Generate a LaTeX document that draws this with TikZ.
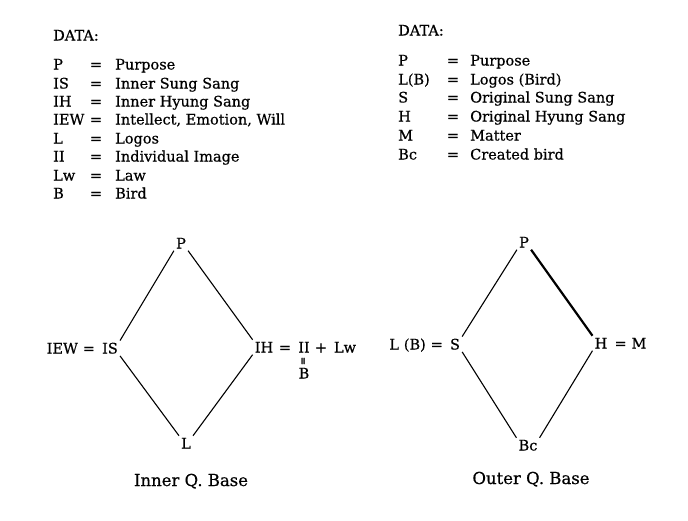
\documentclass[tikz,border=0pt]{standalone}
\usepackage{fontspec}
\setmainfont{DejaVu Serif}[FakeBold=0.6]
\usepackage{graphicx}
\begin{document}
\begin{tikzpicture}[x=1pt,y=-1pt,
  every node/.style={font=\fontsize{14.5}{17}\selectfont, inner sep=0pt},
  txt/.style={anchor=base west},
  lbl/.style={anchor=base},
  capt/.style={anchor=base, font=\fontsize{16.5}{19}\selectfont},
  vtx/.style={anchor=base, inner sep=2pt},
  edge/.style={line width=1.1pt},
  thickedge/.style={line width=2.2pt}]
\useasboundingbox (0,0) rectangle (688,520);
% ---------- left data list ----------
\node[txt] (ldata) at (53,40.5) {DATA:};
\foreach \n/\a/\d/\y in {l1/P/Purpose/69.5, l2/IS/Inner Sung Sang/88.5, l3/IH/Inner Hyung Sang/106.5,
  l4/IEW/{Intellect, Emotion, Will}/124.5, l5/L/Logos/143.5, l6/II/Individual Image/161.5,
  l7/Lw/Law/180.5, l8/B/Bird/198.5}{
  \node[txt] (\n a) at (53,\y) {\a};
  \node[lbl] (\n e) at (96,\y) {=};
  \node[txt] (\n d) at (115,\y) {\d};
}
% ---------- right data list ----------
\node[txt] (rdata) at (398,35.5) {DATA:};
\foreach \n/\a/\d/\y in {r1/P/Purpose/65.5, r2/L(B)/Logos (Bird)/84.5, r3/S/Original Sung Sang/102.5,
  r4/H/Original Hyung Sang/121.5, r5/M/Matter/140.5, r6/Bc/Created bird/159.5}{
  \node[txt] (\n a) at (398,\y) {\a};
  \node[lbl] (\n e) at (453,\y) {=};
  \node[txt] (\n d) at (470,\y) {\d};
}
% ---------- inner quadruple base ----------
\node[vtx] (P1) at (181,248.5) {P};
\node[vtx] (IS) at (110,353.5) {IS};
\node[anchor=base east] (IEW) at (IS.base west) {IEW\,\,=\,\,};
\node[vtx] (IH) at (264,352.5) {IH};
\node[lbl] (eq1) at (285,352.5) {=};
\node[lbl] (II) at (304,352.5) {II};
\node[lbl] (plus) at (321,352.5) {+};
\node[lbl] (Lw) at (345,352.5) {Lw};
\node (veq) at (304,361) {\rotatebox{90}{\fontsize{10}{10}\selectfont =}};
\node[lbl] (Bb) at (304,378.5) {B};
\node[vtx] (L) at (186,448.5) {L};
\node[capt] (cap1) at (191,486) {Inner Q. Base};
\draw[edge] (P1.south west) -- (IS.north east);
\draw[edge] (P1.south east) -- (IH.north west);
\draw[edge] (IS.south east) -- (L.north west);
\draw[edge] (IH.south west) -- (L.north east);
% ---------- outer quadruple base ----------
\node[vtx] (P2) at (524,247.5) {P};
\node[vtx] (S) at (455,349.5) {S};
\node[anchor=base east] (LB) at (S.base west) {L\,\,(B)\,\,=\,\,};
\node[vtx] (H) at (601,348.5) {H};
\node[anchor=base west] (M) at (H.base east) {\,\,=\,\,M};
\node[vtx] (Bc) at (528,450.5) {Bc};
\node[capt] (cap2) at (531,484) {Outer Q. Base};
\draw[edge] (P2.south west) -- (S.north east);
\draw[thickedge] (P2.south east) -- (H.north west);
\draw[edge] (S.south east) -- (Bc.north west);
\draw[edge] (H.south west) -- (Bc.north east);
\end{tikzpicture}
\end{document}
